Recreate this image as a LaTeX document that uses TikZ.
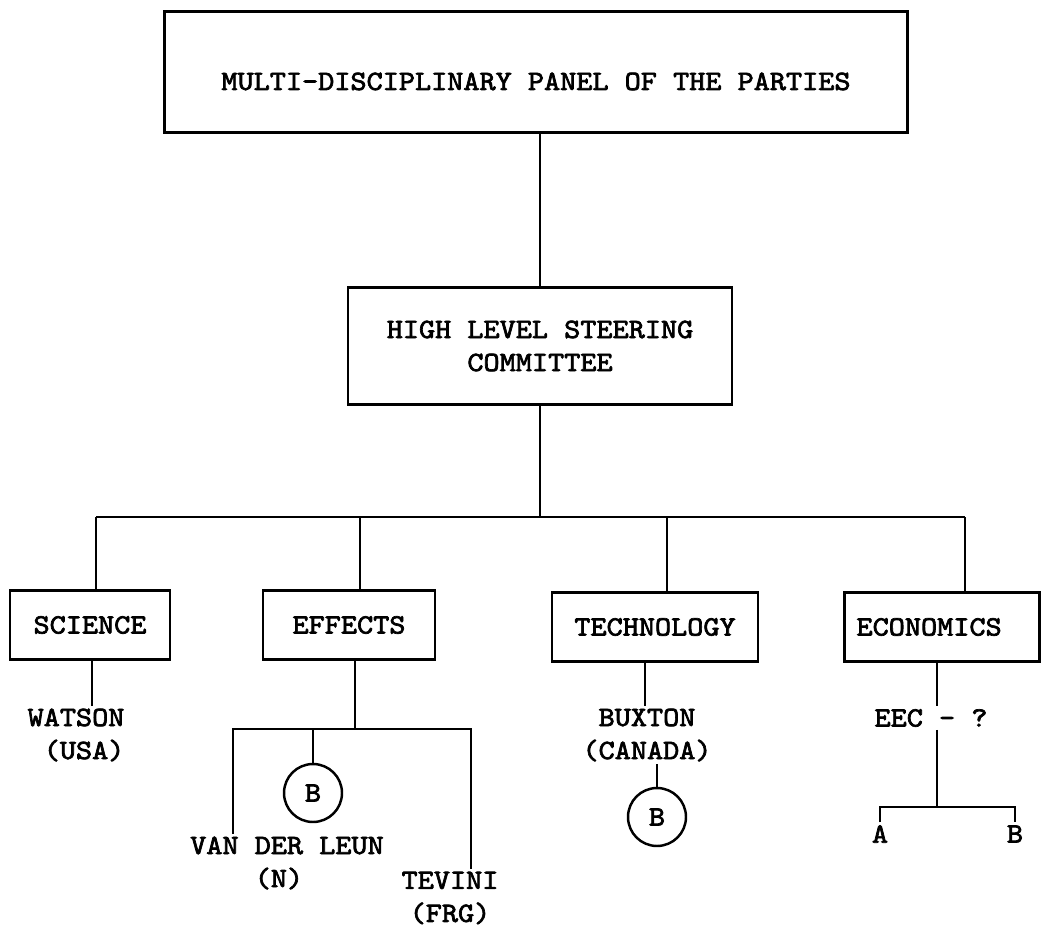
\documentclass[tikz,border=0pt]{standalone}
\usepackage{fontspec}
\setmainfont{lmmono10-regular.otf}[FakeStretch=1.1, FakeBold=2.5]
\begin{document}
\begin{tikzpicture}[x=0.02cm, y=-0.02cm, line width=1.4pt,
        every node/.style={font=\fontsize{15.9}{18.8}\selectfont},
        box/.style={draw, rectangle, minimum height=1.38cm, inner sep=0pt},
        circ/.style={draw, circle, minimum size=1.16cm, inner sep=0pt},
        lbl/.style={inner sep=1pt, align=center}]
        \useasboundingbox (0,0) rectangle (1042,929);
        % Riquadri in alto
        \node (panel) at (536,72) [box, minimum width=14.86cm, minimum height=2.42cm, text height=0.72cm, text depth=0pt] {MULTI-DISCIPLINARY PANEL OF THE PARTIES};
        \node (hlsc) at (540,346) [box, minimum width=7.68cm, minimum height=2.34cm, align=center] {HIGH LEVEL STEERING\\COMMITTEE};
        
        % Gruppi di lavoro
        \node (science) at (90,625) [box, minimum width=3.2cm] {SCIENCE};
        \node (effects) at (349,625) [box, minimum width=3.44cm] {EFFECTS};
        \node (technology) at (655,627) [box, minimum width=4.12cm] {TECHNOLOGY};
        \node (economics) at (942,627) [box, text width=3.42cm, inner xsep=0.24cm, align=left] {ECONOMICS};
        
        % Nomi
        \node (watson) at (76,735) [lbl, align=left] {WATSON\\\hphantom{W}(USA)};
        \node (vdl) at (287,863) [lbl, align=left] {VAN DER LEUN\\\hphantom{VAN }(N)};
        \node (tevini) at (450,898) [lbl] {TEVINI\\(FRG)};
        \node (buxton) at (647,735) [lbl] {BUXTON\\(CANADA)};
        \node (eec) at (931,718) [lbl] {EEC - ?};
        \node (a) at (880,834) [lbl] {A};
        \node (b) at (1015,834) [lbl] {B};
        \node (ec) at (313,793) [circ] {B};
        \node (tc) at (657,817) [circ] {B};
        
        % Punti di snodo
        \coordinate (b1) at (96,517);
        \coordinate (b2) at (360,517);
        \coordinate (b3) at (667,517);
        \coordinate (b4) at (965,517);
        \coordinate (sx) at (92,700);
        \coordinate (ebus) at (355,729);
        \coordinate (el) at (233,729);
        \coordinate (er) at (471,729);
        \coordinate (tx) at (645,700);
        \coordinate (ab) at (937,807);
        
        % Collegamenti
        \draw (hlsc.north) -- (hlsc.north |- panel.south);
        \draw (hlsc.south) -- (hlsc.south |- b1);
        \draw (b1) -- (b4);
        \foreach \p/\n in {b1/science, b2/effects, b3/technology, b4/economics}
            \draw (\p) -- (\p |- \n.north);
        \draw (sx |- science.south) -- (sx |- watson.north);
        \draw (ebus |- effects.south) -- (ebus);
        \draw (el |- vdl.north) -- (el) -- (er) -- (er |- tevini.north);
        \draw (ec.north) -- (ec.north |- el);
        \draw (tx |- technology.south) -- (tx |- buxton.north);
        \draw (tc.north) -- (tc.north |- buxton.south);
        \draw (ab |- economics.south) -- (ab |- eec.north);
        \draw (ab |- eec.south) -- (ab);
        \draw (a.north) -- (a.north |- ab) -- (b.north |- ab) -- (b.north);
    \end{tikzpicture}
\end{document}
